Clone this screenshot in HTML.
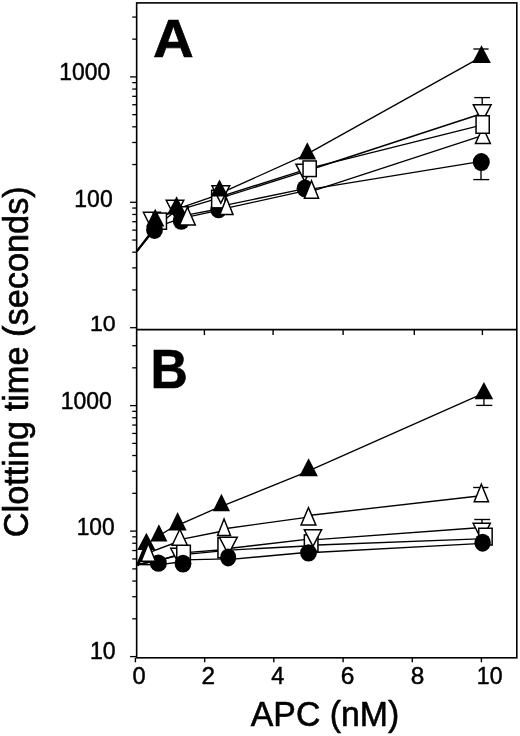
<!DOCTYPE html>
<html><head><meta charset="utf-8"><title>Clotting time vs APC</title>
<style>html,body{margin:0;padding:0;background:#fff;}body{width:520px;height:736px;overflow:hidden;}svg{display:block;}</style>
</head><body>
<svg width="520" height="736" viewBox="0 0 520 736">
<g stroke="#000" fill="none" stroke-linecap="butt">
<rect x="136.65" y="2.9" width="380.15" height="654.90" fill="none" stroke-width="1.6"/>
<line x1="136.65" y1="329.60" x2="516.80" y2="329.60" stroke-width="1.6"/>
<line x1="130.05" y1="327.70" x2="136.65" y2="327.70" stroke-width="1.3"/>
<line x1="132.25" y1="289.95" x2="136.65" y2="289.95" stroke-width="1.3"/>
<line x1="132.25" y1="267.87" x2="136.65" y2="267.87" stroke-width="1.3"/>
<line x1="132.25" y1="252.20" x2="136.65" y2="252.20" stroke-width="1.3"/>
<line x1="132.25" y1="240.05" x2="136.65" y2="240.05" stroke-width="1.3"/>
<line x1="132.25" y1="230.12" x2="136.65" y2="230.12" stroke-width="1.3"/>
<line x1="132.25" y1="221.72" x2="136.65" y2="221.72" stroke-width="1.3"/>
<line x1="132.25" y1="214.45" x2="136.65" y2="214.45" stroke-width="1.3"/>
<line x1="132.25" y1="208.04" x2="136.65" y2="208.04" stroke-width="1.3"/>
<line x1="130.05" y1="202.30" x2="136.65" y2="202.30" stroke-width="1.3"/>
<line x1="132.25" y1="164.55" x2="136.65" y2="164.55" stroke-width="1.3"/>
<line x1="132.25" y1="142.47" x2="136.65" y2="142.47" stroke-width="1.3"/>
<line x1="132.25" y1="126.80" x2="136.65" y2="126.80" stroke-width="1.3"/>
<line x1="132.25" y1="114.65" x2="136.65" y2="114.65" stroke-width="1.3"/>
<line x1="132.25" y1="104.72" x2="136.65" y2="104.72" stroke-width="1.3"/>
<line x1="132.25" y1="96.32" x2="136.65" y2="96.32" stroke-width="1.3"/>
<line x1="132.25" y1="89.05" x2="136.65" y2="89.05" stroke-width="1.3"/>
<line x1="132.25" y1="82.64" x2="136.65" y2="82.64" stroke-width="1.3"/>
<line x1="130.05" y1="76.90" x2="136.65" y2="76.90" stroke-width="1.3"/>
<line x1="132.25" y1="39.15" x2="136.65" y2="39.15" stroke-width="1.3"/>
<line x1="132.25" y1="17.07" x2="136.65" y2="17.07" stroke-width="1.3"/>
<line x1="130.05" y1="656.60" x2="136.65" y2="656.60" stroke-width="1.3"/>
<line x1="132.25" y1="618.82" x2="136.65" y2="618.82" stroke-width="1.3"/>
<line x1="132.25" y1="596.72" x2="136.65" y2="596.72" stroke-width="1.3"/>
<line x1="132.25" y1="581.04" x2="136.65" y2="581.04" stroke-width="1.3"/>
<line x1="132.25" y1="568.88" x2="136.65" y2="568.88" stroke-width="1.3"/>
<line x1="132.25" y1="558.94" x2="136.65" y2="558.94" stroke-width="1.3"/>
<line x1="132.25" y1="550.54" x2="136.65" y2="550.54" stroke-width="1.3"/>
<line x1="132.25" y1="543.26" x2="136.65" y2="543.26" stroke-width="1.3"/>
<line x1="132.25" y1="536.84" x2="136.65" y2="536.84" stroke-width="1.3"/>
<line x1="130.05" y1="531.10" x2="136.65" y2="531.10" stroke-width="1.3"/>
<line x1="132.25" y1="493.32" x2="136.65" y2="493.32" stroke-width="1.3"/>
<line x1="132.25" y1="471.22" x2="136.65" y2="471.22" stroke-width="1.3"/>
<line x1="132.25" y1="455.54" x2="136.65" y2="455.54" stroke-width="1.3"/>
<line x1="132.25" y1="443.38" x2="136.65" y2="443.38" stroke-width="1.3"/>
<line x1="132.25" y1="433.44" x2="136.65" y2="433.44" stroke-width="1.3"/>
<line x1="132.25" y1="425.04" x2="136.65" y2="425.04" stroke-width="1.3"/>
<line x1="132.25" y1="417.76" x2="136.65" y2="417.76" stroke-width="1.3"/>
<line x1="132.25" y1="411.34" x2="136.65" y2="411.34" stroke-width="1.3"/>
<line x1="130.05" y1="405.60" x2="136.65" y2="405.60" stroke-width="1.3"/>
<line x1="132.25" y1="367.82" x2="136.65" y2="367.82" stroke-width="1.3"/>
<line x1="132.25" y1="345.72" x2="136.65" y2="345.72" stroke-width="1.3"/>
<line x1="135.40" y1="657.80" x2="135.40" y2="662.30" stroke-width="1.4"/>
<line x1="204.70" y1="657.80" x2="204.70" y2="662.30" stroke-width="1.4"/>
<line x1="273.80" y1="657.80" x2="273.80" y2="662.30" stroke-width="1.4"/>
<line x1="343.10" y1="657.80" x2="343.10" y2="662.30" stroke-width="1.4"/>
<line x1="412.30" y1="657.80" x2="412.30" y2="662.30" stroke-width="1.4"/>
<line x1="481.40" y1="657.80" x2="481.40" y2="662.30" stroke-width="1.4"/>
<line x1="204.40" y1="329.60" x2="204.40" y2="335.10" stroke-width="1.4"/>
<line x1="273.10" y1="329.60" x2="273.10" y2="335.10" stroke-width="1.4"/>
<line x1="343.10" y1="329.60" x2="343.10" y2="335.10" stroke-width="1.4"/>
<line x1="414.30" y1="329.60" x2="414.30" y2="335.10" stroke-width="1.4"/>
<line x1="482.40" y1="329.60" x2="482.40" y2="335.10" stroke-width="1.4"/>
<polyline points="155.20,220.60 176.60,209.10" fill="none" stroke-width="1.35"/>
<polyline points="151.80,221.00 176.60,209.10" fill="none" stroke-width="1.35"/>
<polyline points="136.60,251.30 159.80,223.50 176.10,210.80" fill="none" stroke-width="1.35"/>
<polyline points="136.60,251.30 154.50,227.50 181.30,218.40" fill="none" stroke-width="1.35"/>
<line x1="136.80" y1="251.40" x2="149.50" y2="235.00" stroke-width="2.2"/>
<line x1="176.60" y1="209.09" x2="219.50" y2="194.30" stroke-width="1.35"/>
<line x1="176.10" y1="210.88" x2="218.50" y2="198.07" stroke-width="1.35"/>
<line x1="187.50" y1="214.96" x2="226.60" y2="207.53" stroke-width="1.35"/>
<line x1="181.30" y1="218.39" x2="218.60" y2="210.37" stroke-width="1.35"/>
<line x1="219.50" y1="193.70" x2="307.80" y2="153.82" stroke-width="1.35"/>
<line x1="219.50" y1="196.93" x2="304.70" y2="169.81" stroke-width="1.35"/>
<line x1="218.50" y1="198.70" x2="309.70" y2="169.97" stroke-width="1.35"/>
<line x1="218.60" y1="206.62" x2="305.00" y2="188.62" stroke-width="1.35"/>
<line x1="226.60" y1="208.16" x2="311.50" y2="189.34" stroke-width="1.35"/>
<line x1="307.80" y1="153.59" x2="481.50" y2="56.90" stroke-width="1.35"/>
<line x1="304.70" y1="171.50" x2="482.20" y2="113.51" stroke-width="1.35"/>
<line x1="309.70" y1="168.07" x2="482.60" y2="124.85" stroke-width="1.35"/>
<line x1="311.50" y1="191.28" x2="482.90" y2="135.29" stroke-width="1.35"/>
<line x1="305.00" y1="190.15" x2="481.30" y2="161.35" stroke-width="1.35"/>
<polyline points="146.40,544.20 158.90,535.70 177.60,524.30" fill="none" stroke-width="1.35"/>
<polyline points="136.60,564.50 147.60,553.00 179.80,541.00" fill="none" stroke-width="1.35"/>
<polyline points="136.60,564.50 158.00,560.50 179.50,555.00" fill="none" stroke-width="1.35"/>
<polyline points="136.60,564.50 158.00,561.00 183.60,553.00" fill="none" stroke-width="1.35"/>
<polyline points="136.60,564.50 158.90,564.80 182.80,561.50" fill="none" stroke-width="1.35"/>
<line x1="177.60" y1="525.36" x2="221.40" y2="506.08" stroke-width="1.35"/>
<line x1="179.80" y1="539.64" x2="224.40" y2="530.72" stroke-width="1.35"/>
<line x1="179.50" y1="553.14" x2="228.50" y2="549.22" stroke-width="1.35"/>
<line x1="183.60" y1="554.64" x2="224.50" y2="550.55" stroke-width="1.35"/>
<line x1="182.80" y1="559.84" x2="228.20" y2="558.94" stroke-width="1.35"/>
<line x1="221.40" y1="506.48" x2="308.60" y2="471.11" stroke-width="1.35"/>
<line x1="224.40" y1="528.76" x2="308.40" y2="517.09" stroke-width="1.35"/>
<line x1="228.50" y1="548.51" x2="313.00" y2="538.65" stroke-width="1.35"/>
<line x1="224.50" y1="550.35" x2="311.00" y2="545.78" stroke-width="1.35"/>
<line x1="228.20" y1="559.60" x2="308.60" y2="552.23" stroke-width="1.35"/>
<line x1="308.60" y1="470.88" x2="483.90" y2="393.04" stroke-width="1.35"/>
<line x1="308.40" y1="515.49" x2="481.10" y2="495.73" stroke-width="1.35"/>
<line x1="313.00" y1="539.91" x2="481.70" y2="527.54" stroke-width="1.35"/>
<line x1="311.00" y1="545.21" x2="485.40" y2="538.62" stroke-width="1.35"/>
<line x1="308.60" y1="552.79" x2="482.60" y2="543.31" stroke-width="1.35"/>
<line x1="137.40" y1="565.60" x2="147.60" y2="541.00" stroke-width="3.0"/>
</g>
<g stroke="#000">
<polygon points="143.41,212.25 160.39,212.25 151.90,229.32" fill="#fff" stroke-width="1.5" stroke-linejoin="miter" stroke-miterlimit="10"/>
<rect x="153.25" y="213.05" width="13.20" height="16.20" fill="#fff" stroke-width="1.5"/>
<ellipse cx="154.50" cy="230.00" rx="8.4" ry="9.0" fill="#000" stroke="none"/>
<polygon points="155.20,208.80 146.00,226.40 164.40,226.40" fill="#000" stroke="none"/>
<polygon points="166.23,200.35 183.77,200.35 175.00,217.46" fill="#fff" stroke-width="1.5" stroke-linejoin="miter" stroke-miterlimit="10"/>
<rect x="174.75" y="206.75" width="13.50" height="16.50" fill="#fff" stroke-width="1.5"/>
<ellipse cx="181.30" cy="221.00" rx="8.5" ry="8.7" fill="#000" stroke="none"/>
<polygon points="176.60,196.20 167.10,214.60 186.10,214.60" fill="#000" stroke="none"/>
<polygon points="187.40,207.26 179.55,225.05 195.25,225.05" fill="#fff" stroke-width="1.5" stroke-linejoin="miter" stroke-miterlimit="10"/>
<ellipse cx="218.60" cy="209.50" rx="8.4" ry="8.7" fill="#000" stroke="none"/>
<rect x="211.65" y="190.25" width="13.50" height="17.60" fill="#fff" stroke-width="1.5"/>
<polygon points="211.93,185.85 229.67,185.85 220.80,203.06" fill="#fff" stroke-width="1.5" stroke-linejoin="miter" stroke-miterlimit="10"/>
<polygon points="226.45,198.03 219.91,214.45 232.99,214.45" fill="#fff" stroke-width="1.5" stroke-linejoin="miter" stroke-miterlimit="10"/>
<polygon points="219.50,179.40 210.60,196.60 228.40,196.60" fill="#000" stroke="none"/>
<polygon points="295.93,164.15 313.47,164.15 304.70,181.26" fill="#fff" stroke-width="1.5" stroke-linejoin="miter" stroke-miterlimit="10"/>
<rect x="303.05" y="160.95" width="13.20" height="15.60" fill="#fff" stroke-width="1.5"/>
<ellipse cx="305.00" cy="188.50" rx="8.4" ry="9.0" fill="#000" stroke="none"/>
<polygon points="311.50,180.75 304.41,198.25 318.59,198.25" fill="#fff" stroke-width="1.5" stroke-linejoin="miter" stroke-miterlimit="10"/>
<polygon points="307.30,142.20 298.50,159.50 316.10,159.50" fill="#000" stroke="none"/>
<line x1="482.20" y1="113.70" x2="482.20" y2="97.60" stroke-width="1.35"/>
<line x1="474.30" y1="97.60" x2="490.00" y2="97.60" stroke-width="1.35"/>
<polygon points="473.33,104.85 491.07,104.85 482.20,121.97" fill="#fff" stroke-width="1.5" stroke-linejoin="miter" stroke-miterlimit="10"/>
<polygon points="482.90,127.30 475.47,143.45 490.33,143.45" fill="#fff" stroke-width="1.5" stroke-linejoin="miter" stroke-miterlimit="10"/>
<rect x="476.05" y="115.75" width="13.20" height="17.50" fill="#fff" stroke-width="1.5"/>
<line x1="481.00" y1="162.00" x2="481.00" y2="179.60" stroke-width="1.35"/>
<line x1="473.30" y1="179.60" x2="489.20" y2="179.60" stroke-width="1.35"/>
<ellipse cx="481.30" cy="162.10" rx="8.5" ry="9.0" fill="#000" stroke="none"/>
<line x1="481.50" y1="57.00" x2="481.50" y2="49.00" stroke-width="1.35"/>
<line x1="473.40" y1="49.00" x2="488.60" y2="49.00" stroke-width="1.35"/>
<polygon points="481.50,45.20 472.15,62.90 490.85,62.90" fill="#000" stroke="none"/>
<polygon points="146.40,532.80 137.30,549.90 155.50,549.90" fill="#000" stroke="none"/>
<ellipse cx="158.40" cy="563.20" rx="8.5" ry="8.6" fill="#000" stroke="none"/>
<polygon points="148.30,543.50 141.11,561.25 155.49,561.25" fill="#fff" stroke-width="1.5" stroke-linejoin="miter" stroke-miterlimit="10"/>
<polygon points="158.90,524.30 150.35,541.40 167.45,541.40" fill="#000" stroke="none"/>
<polygon points="170.73,548.35 188.27,548.35 179.50,565.46" fill="#fff" stroke-width="1.5" stroke-linejoin="miter" stroke-miterlimit="10"/>
<rect x="176.75" y="545.25" width="13.60" height="16.00" fill="#fff" stroke-width="1.5"/>
<ellipse cx="183.00" cy="563.60" rx="8.45" ry="8.9" fill="#000" stroke="none"/>
<polygon points="179.75,529.25 172.18,545.25 187.32,545.25" fill="#fff" stroke-width="1.5" stroke-linejoin="miter" stroke-miterlimit="10"/>
<polygon points="177.60,512.00 168.60,530.40 186.60,530.40" fill="#000" stroke="none"/>
<rect x="217.95" y="537.75" width="13.30" height="20.00" fill="#fff" stroke-width="1.5"/>
<polygon points="219.44,537.25 237.26,537.25 228.35,554.38" fill="#fff" stroke-width="1.5" stroke-linejoin="miter" stroke-miterlimit="10"/>
<ellipse cx="228.20" cy="557.40" rx="8.0" ry="9.0" fill="#000" stroke="none"/>
<polygon points="224.05,518.96 217.60,535.45 230.50,535.45" fill="#fff" stroke-width="1.5" stroke-linejoin="miter" stroke-miterlimit="10"/>
<polygon points="221.40,493.70 212.80,511.20 230.00,511.20" fill="#000" stroke="none"/>
<rect x="304.35" y="534.85" width="13.60" height="16.60" fill="#fff" stroke-width="1.5"/>
<polygon points="304.33,529.85 321.57,529.85 312.95,546.47" fill="#fff" stroke-width="1.5" stroke-linejoin="miter" stroke-miterlimit="10"/>
<ellipse cx="308.50" cy="552.80" rx="8.4" ry="8.6" fill="#000" stroke="none"/>
<polygon points="308.45,507.71 301.04,525.05 315.86,525.05" fill="#fff" stroke-width="1.5" stroke-linejoin="miter" stroke-miterlimit="10"/>
<polygon points="308.60,458.20 299.30,476.20 317.90,476.20" fill="#000" stroke="none"/>
<line x1="482.00" y1="530.00" x2="482.00" y2="519.50" stroke-width="1.35"/>
<line x1="474.30" y1="519.50" x2="490.20" y2="519.50" stroke-width="1.35"/>
<polygon points="473.12,523.35 490.28,523.35 481.70,540.43" fill="#fff" stroke-width="1.5" stroke-linejoin="miter" stroke-miterlimit="10"/>
<rect x="478.75" y="528.25" width="13.40" height="16.80" fill="#fff" stroke-width="1.5"/>
<ellipse cx="482.60" cy="542.70" rx="8.25" ry="9.0" fill="#000" stroke="none"/>
<line x1="481.10" y1="492.00" x2="481.10" y2="487.50" stroke-width="1.35"/>
<line x1="473.10" y1="487.50" x2="488.40" y2="487.50" stroke-width="1.35"/>
<polygon points="481.35,484.18 474.22,501.65 488.48,501.65" fill="#fff" stroke-width="1.5" stroke-linejoin="miter" stroke-miterlimit="10"/>
<line x1="483.90" y1="393.50" x2="483.90" y2="405.40" stroke-width="1.35"/>
<line x1="476.20" y1="405.40" x2="492.30" y2="405.40" stroke-width="1.35"/>
<polygon points="483.90,382.00 474.60,399.30 493.20,399.30" fill="#000" stroke="none"/>
</g>
<g fill="#000" font-family='"Liberation Sans", Arial, Helvetica, sans-serif'>
<text transform="translate(59.26,80.35) scale(0.9959,1.0092)" font-size="23" font-weight="normal" stroke="#000" stroke-width="0.45">1000</text>
<text transform="translate(74.35,206.75) scale(0.9986,1.0031)" font-size="23" font-weight="normal" stroke="#000" stroke-width="0.45">100</text>
<text transform="translate(89.94,330.65) scale(1.0043,0.9908)" font-size="23" font-weight="normal" stroke="#000" stroke-width="0.45">10</text>
<text transform="translate(60.75,408.74) scale(1.0000,1.0338)" font-size="23" font-weight="normal" stroke="#000" stroke-width="0.45">1000</text>
<text transform="translate(76.67,534.75) scale(0.9902,1.0031)" font-size="23" font-weight="normal" stroke="#000" stroke-width="0.45">100</text>
<text transform="translate(89.94,658.64) scale(1.0043,1.0215)" font-size="23" font-weight="normal" stroke="#000" stroke-width="0.45">10</text>
<text transform="translate(132.47,684.04) scale(1.0273,1.0338)" font-size="23" font-weight="normal" stroke="#000" stroke-width="0.45">0</text>
<text transform="translate(201.58,684.10) scale(1.0571,1.0375)" font-size="23" font-weight="normal" stroke="#000" stroke-width="0.45">2</text>
<text transform="translate(271.29,683.80) scale(1.0174,1.0222)" font-size="23" font-weight="normal" stroke="#000" stroke-width="0.45">4</text>
<text transform="translate(340.67,684.05) scale(1.0667,1.0092)" font-size="23" font-weight="normal" stroke="#000" stroke-width="0.45">6</text>
<text transform="translate(410.84,684.24) scale(1.0605,1.0462)" font-size="23" font-weight="normal" stroke="#000" stroke-width="0.45">8</text>
<text transform="translate(476.84,684.04) scale(1.0043,1.0215)" font-size="23" font-weight="normal" stroke="#000" stroke-width="0.45">10</text>
<text transform="translate(250.80,725.76) scale(0.9670,1.0123)" font-size="35" font-weight="normal" stroke="#000" stroke-width="0.6">APC (nM)</text>
<text transform="translate(28.16,537.22) rotate(-90) scale(0.9811,1.0123)" font-size="35" font-weight="normal" stroke="#000" stroke-width="0.6">Clotting time (seconds)</text>
<text transform="translate(152.89,56.80) scale(1.0843,1.0490)" font-size="52" font-weight="bold" stroke="#000" stroke-width="0.6">A</text>
<text transform="translate(150.53,388.40) scale(0.9921,1.0601)" font-size="52" font-weight="bold" stroke="#000" stroke-width="0.6">B</text>
</g>
</svg>
</body></html>
